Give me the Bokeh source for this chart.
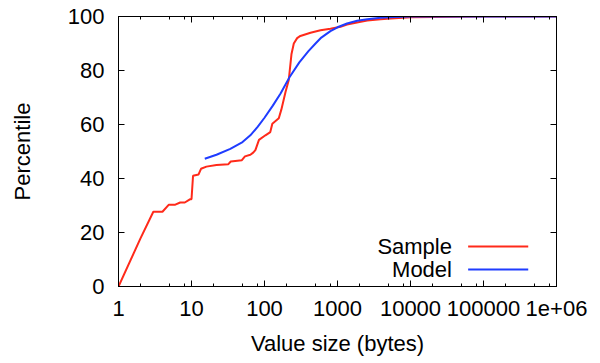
from bokeh.plotting import figure
from bokeh.models import Range1d, FixedTicker, LogAxis, LinearAxis, CustomJSTickFormatter
from bokeh.core.properties import value
from bokeh.embed import file_html
from bokeh.resources import INLINE

# ---- data ----
sample_x = [1, 2, 3, 4, 4.9, 6, 7, 8.1, 9.5, 10, 10.5, 12.5, 13.5, 16, 22, 32, 34.5,
            49, 54, 64, 70, 75, 84, 103, 120, 128, 157, 170, 194, 215, 234, 252, 280,
            310, 427, 585, 800, 1100, 1350, 2000, 2560, 3900, 4800, 10000, 100000, 1000000]
sample_y = [0, 17.8, 27.7, 27.7, 30.3, 30.3, 31.1, 31.1, 32.3, 32.3, 41.0, 41.5, 43.6,
            44.4, 45.0, 45.3, 46.3, 46.8, 48.2, 48.8, 49.6, 50.5, 54.3, 56.0, 57.2, 60.3,
            62.3, 65.5, 72.0, 76.5, 86.0, 90.0, 92.0, 92.8, 94.0, 94.9, 95.5, 96.2, 97.0,
            98.0, 98.5, 99.0, 99.2, 99.7, 100, 100]

model_x = [15.2, 22, 34, 50, 64, 80, 100, 130, 166, 220, 300, 400, 500, 600, 800, 1000,
           1350, 1860, 2560, 3890, 6000, 10000, 100000, 1000000]
model_y = [47.3, 48.8, 51.0, 53.5, 56.0, 59.0, 62.5, 67.0, 71.5, 77.5, 83.0, 87.2, 90.0,
           92.2, 94.6, 96.0, 97.4, 98.4, 99.0, 99.5, 99.8, 100, 100, 100]

x_ticks = [1, 10, 100, 1000, 10000, 100000, 1000000]
x_tick_labels = ["1", "10", "100", "1000", "10000", "100000", "1e+06"]
y_ticks = [0, 20, 40, 60, 80, 100]

series_names = ["Sample", "Model"]
series_colors = ["#ff2a1a", "#1f3cff"]

FONT = "Liberation Sans"
FS = "22px"

p = figure(width=600, height=363, x_axis_type="log",
           x_range=Range1d(1, 1e6), y_range=Range1d(0, 100),
           output_backend="svg", toolbar_location=None,
           min_border_left=118, min_border_right=44,
           min_border_top=16, min_border_bottom=77)

p.xgrid.visible = False
p.ygrid.visible = False
p.outline_line_color = "black"
p.outline_line_width = 1
p.background_fill_color = "white"
p.border_fill_color = "white"

minor = [d * m for d in x_ticks[:-1] for m in (2, 5, 8)]
xt = FixedTicker(ticks=x_ticks, minor_ticks=minor)
yt = FixedTicker(ticks=y_ticks, minor_ticks=[])

def style(ax):
    ax.axis_line_color = "black"
    ax.major_tick_line_color = "black"
    ax.minor_tick_line_color = "black"
    ax.major_tick_in = 6
    ax.major_tick_out = 0
    ax.minor_tick_in = 3
    ax.minor_tick_out = 0
    ax.major_label_text_font = FONT
    ax.major_label_text_font_size = FS
    ax.major_label_text_color = "black"
    ax.axis_label_text_font = FONT
    ax.axis_label_text_font_size = FS
    ax.axis_label_text_font_style = "normal"
    ax.axis_label_text_color = "black"

xa = p.xaxis[0]
xa.ticker = xt
xa.major_label_overrides = {t: l for t, l in zip(x_ticks, x_tick_labels)}
style(xa)
xa.axis_label = "Value size (bytes)"
xa.major_label_standoff = 14
xa.axis_label_standoff = 12

ya = p.yaxis[0]
ya.ticker = yt
style(ya)
ya.axis_label = "Percentile"
ya.major_label_standoff = 14
ya.axis_label_standoff = 30

top = LogAxis(ticker=xt, formatter=CustomJSTickFormatter(code="return ''"))
style(top)
top.major_label_standoff = 0
p.add_layout(top, "above")

right = LinearAxis(ticker=yt, formatter=CustomJSTickFormatter(code="return ''"))
style(right)
right.major_label_standoff = 0
p.add_layout(right, "right")

p.line(sample_x, sample_y, line_color=series_colors[0], line_width=2)
p.line(model_x, model_y, line_color=series_colors[1], line_width=2)

# legend (text left of the line sample, as in the reference)
leg_text_x = 37000
leg_line_x = [61600, 410000]
leg_y = [14.8, 6.3]
p.text(x=[leg_text_x] * 2, y=leg_y, text=series_names, text_align="right",
       text_baseline="middle", text_font=value(FONT), text_font_size=FS,
       text_color="black")
for yy, c in zip(leg_y, series_colors):
    p.line(leg_line_x, [yy, yy], line_color=c, line_width=2)

open("out.html", "w").write(file_html(p, INLINE))
